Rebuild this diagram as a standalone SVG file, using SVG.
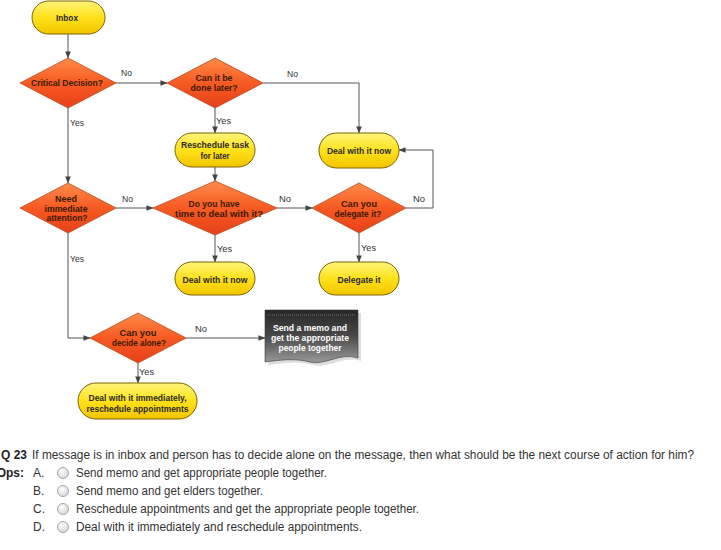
<svg xmlns="http://www.w3.org/2000/svg" width="721" height="550" viewBox="0 0 721 550">
<defs>
<linearGradient id="gy" x1="0" y1="0" x2="0" y2="1"><stop offset="0" stop-color="#fff47a"/><stop offset="0.5" stop-color="#ffe21a"/><stop offset="1" stop-color="#f2c400"/></linearGradient>
<linearGradient id="gr" x1="0" y1="0" x2="0" y2="1"><stop offset="0" stop-color="#ff8c4a"/><stop offset="0.5" stop-color="#f65a22"/><stop offset="1" stop-color="#e8401a"/></linearGradient>
<linearGradient id="gm" x1="0" y1="0" x2="0" y2="1"><stop offset="0" stop-color="#262626"/><stop offset="0.5" stop-color="#4a4a4a"/><stop offset="1" stop-color="#9a9a9a"/></linearGradient>
<radialGradient id="gb" cx="0.4" cy="0.35" r="0.7"><stop offset="0" stop-color="#ffffff"/><stop offset="1" stop-color="#d4d4d4"/></radialGradient>
<marker id="ah" viewBox="0 0 8 8" refX="7.5" refY="4" markerWidth="7" markerHeight="7" markerUnits="userSpaceOnUse" orient="auto"><path d="M0,0.8 L8,4 L0,7.2 Z" fill="#444"/></marker>
<style>
.pill{fill:url(#gy);stroke:#7a6400;stroke-width:1}
.dia{fill:url(#gr);stroke:#b84a20;stroke-width:0.8}
.nt{font-family:"Liberation Sans",Arial,sans-serif;font-size:9px;font-weight:bold;fill:#2a2a2a;text-anchor:middle}
.dt{font-family:"Liberation Sans",Arial,sans-serif;font-size:8.5px;font-weight:bold;fill:#3a1a00;text-anchor:middle}
.mt{font-family:"Liberation Sans",Arial,sans-serif;font-size:8.5px;font-weight:bold;fill:#ffffff;text-anchor:middle}
.lb{font-family:"Liberation Sans",Arial,sans-serif;font-size:9px;fill:#333}
.cn{fill:none;stroke:#555;stroke-width:1;marker-end:url(#ah)}
.qt{font-family:"Liberation Sans",Arial,sans-serif;font-size:12px;fill:#333}
.qb{font-family:"Liberation Sans",Arial,sans-serif;font-size:12px;font-weight:bold;fill:#222}
.rb{fill:url(#gb);stroke:#a8a8a8;stroke-width:1}
</style>
</defs>
<rect width="721" height="550" fill="#ffffff"/>

<g id="connectors">
<path class="cn" d="M68,34 V58"/>
<path class="cn" d="M116,83 H167"/>
<path class="cn" d="M263,83 H359 V133"/>
<path class="cn" d="M215,108 V133"/>
<path class="cn" d="M68,108 V183"/>
<path class="cn" d="M215,167 V181"/>
<path class="cn" d="M116,208 H153"/>
<path class="cn" d="M277,208 H312"/>
<path class="cn" d="M406,208 H433 V150 H399"/>
<path class="cn" d="M215,235 V262"/>
<path class="cn" d="M359,233 V262"/>
<path class="cn" d="M68,233 V338 H90"/>
<path class="cn" d="M186,338 H265"/>
<path class="cn" d="M138,363 V383"/>
<text class="lb" x="121" y="76" textLength="11" lengthAdjust="spacingAndGlyphs">No</text>
<text class="lb" x="70" y="126" textLength="14" lengthAdjust="spacingAndGlyphs">Yes</text>
<text class="lb" x="216" y="124" textLength="15" lengthAdjust="spacingAndGlyphs">Yes</text>
<text class="lb" x="287" y="77" textLength="11" lengthAdjust="spacingAndGlyphs">No</text>
<text class="lb" x="122" y="202" textLength="11" lengthAdjust="spacingAndGlyphs">No</text>
<text class="lb" x="70" y="262" textLength="14" lengthAdjust="spacingAndGlyphs">Yes</text>
<text class="lb" x="279" y="202" textLength="12" lengthAdjust="spacingAndGlyphs">No</text>
<text class="lb" x="413" y="202" textLength="12" lengthAdjust="spacingAndGlyphs">No</text>
<text class="lb" x="217" y="252" textLength="15" lengthAdjust="spacingAndGlyphs">Yes</text>
<text class="lb" x="361" y="251" textLength="15" lengthAdjust="spacingAndGlyphs">Yes</text>
<text class="lb" x="195" y="332" textLength="12" lengthAdjust="spacingAndGlyphs">No</text>
<text class="lb" x="139" y="375" textLength="15" lengthAdjust="spacingAndGlyphs">Yes</text>
</g>

<g id="inbox">
<rect class="pill" x="32" y="1" width="73" height="33" rx="16.5"/>
<text class="nt" x="67" y="20.5" textLength="22" lengthAdjust="spacingAndGlyphs">Inbox</text>
</g>
<g id="critical">
<polygon class="dia" points="20,83 68,58 116,83 68,108"/>
<text class="dt" x="67" y="86" textLength="72" lengthAdjust="spacingAndGlyphs">Critical Decision?</text>
</g>
<g id="can-later">
<polygon class="dia" points="167,83 215,58 263,83 215,108"/>
<text class="dt" x="214" y="81" textLength="37" lengthAdjust="spacingAndGlyphs">Can it be</text>
<text class="dt" x="214" y="91" textLength="47" lengthAdjust="spacingAndGlyphs">done later?</text>
</g>
<g id="reschedule">
<rect class="pill" x="175" y="133" width="80" height="34" rx="17"/>
<text class="nt" x="215" y="148" textLength="68" lengthAdjust="spacingAndGlyphs">Reschedule task</text>
<text class="nt" x="215" y="158.5" textLength="29" lengthAdjust="spacingAndGlyphs">for later</text>
</g>
<g id="deal-now-top">
<rect class="pill" x="319" y="133" width="80" height="35" rx="17.5"/>
<text class="nt" x="359" y="153.5" textLength="64" lengthAdjust="spacingAndGlyphs">Deal with it now</text>
</g>
<g id="need">
<polygon class="dia" points="20,208 68,183 116,208 68,233"/>
<text class="dt" x="66" y="202" textLength="22" lengthAdjust="spacingAndGlyphs">Need</text>
<text class="dt" x="66" y="211.5" textLength="43" lengthAdjust="spacingAndGlyphs">immediate</text>
<text class="dt" x="67" y="221" textLength="41" lengthAdjust="spacingAndGlyphs">attention?</text>
</g>
<g id="time">
<polygon class="dia" points="153,208 215,181 277,208 215,235"/>
<text class="dt" x="214" y="207" textLength="51" lengthAdjust="spacingAndGlyphs">Do you have</text>
<text class="dt" x="219" y="216.5" textLength="88" lengthAdjust="spacingAndGlyphs">time to deal with it?</text>
</g>
<g id="delegate-q">
<polygon class="dia" points="312,208 359,183 406,208 359,233"/>
<text class="dt" x="359" y="207" textLength="36" lengthAdjust="spacingAndGlyphs">Can you</text>
<text class="dt" x="358" y="216.5" textLength="47" lengthAdjust="spacingAndGlyphs">delegate it?</text>
</g>
<g id="deal-now-2">
<rect class="pill" x="175" y="262" width="80" height="33" rx="16.5"/>
<text class="nt" x="215" y="282.5" textLength="65" lengthAdjust="spacingAndGlyphs">Deal with it now</text>
</g>
<g id="delegate-it">
<rect class="pill" x="319" y="262" width="80" height="33" rx="16.5"/>
<text class="nt" x="359" y="282.5" textLength="43" lengthAdjust="spacingAndGlyphs">Delegate it</text>
</g>
<g id="decide">
<polygon class="dia" points="90,338 138,313 186,338 138,363"/>
<text class="dt" x="138" y="336" textLength="37" lengthAdjust="spacingAndGlyphs">Can you</text>
<text class="dt" x="139" y="346" textLength="54" lengthAdjust="spacingAndGlyphs">decide alone?</text>
</g>
<g id="memo">
<path d="M268,313 H361 V361 C343,355 328,369 313,365 C298,361 283,363 268,365 Z" fill="#c8c8c8" opacity="0.6"/>
<path d="M265,310 H358 V358 C340,352 325,366 310,362 C295,358 280,360 265,362 Z" fill="url(#gm)" stroke="#3a3a3a" stroke-width="0.6"/>
<line x1="268" y1="315" x2="355" y2="315" stroke="#8a8a8a" stroke-width="0.8" stroke-dasharray="1,1"/>
<text class="mt" x="310" y="331" textLength="74" lengthAdjust="spacingAndGlyphs">Send a memo and</text>
<text class="mt" x="310" y="341" textLength="78" lengthAdjust="spacingAndGlyphs">get the appropriate</text>
<text class="mt" x="310" y="351" textLength="63" lengthAdjust="spacingAndGlyphs">people together</text>
</g>
<g id="deal-immediately">
<rect class="pill" x="78" y="383" width="119" height="36" rx="18"/>
<text class="nt" x="137.5" y="401" textLength="98" lengthAdjust="spacingAndGlyphs">Deal with it immediately,</text>
<text class="nt" x="137.5" y="412" textLength="102" lengthAdjust="spacingAndGlyphs">reschedule appointments</text>
</g>

<g id="question">
<text class="qb" x="27" y="459" text-anchor="end">Q 23</text>
<text class="qt" x="32" y="459" textLength="662" lengthAdjust="spacingAndGlyphs">If message is in inbox and person has to decide alone on the message, then what should be the next course of action for him?</text>
<text class="qb" x="24" y="477" text-anchor="end">Ops:</text>
<text class="qt" x="33" y="477">A.</text>
<circle class="rb" cx="63" cy="473" r="5.5"/>
<text class="qt" x="76" y="477" textLength="251" lengthAdjust="spacingAndGlyphs">Send memo and get appropriate people together.</text>
<text class="qt" x="33" y="495">B.</text>
<circle class="rb" cx="63" cy="491" r="5.5"/>
<text class="qt" x="76" y="495" textLength="187" lengthAdjust="spacingAndGlyphs">Send memo and get elders together.</text>
<text class="qt" x="33" y="513">C.</text>
<circle class="rb" cx="63" cy="509" r="5.5"/>
<text class="qt" x="76" y="513" textLength="343" lengthAdjust="spacingAndGlyphs">Reschedule appointments and get the appropriate people together.</text>
<text class="qt" x="33" y="531">D.</text>
<circle class="rb" cx="63" cy="527" r="5.5"/>
<text class="qt" x="76" y="531" textLength="286" lengthAdjust="spacingAndGlyphs">Deal with it immediately and reschedule appointments.</text>
</g>
</svg>
